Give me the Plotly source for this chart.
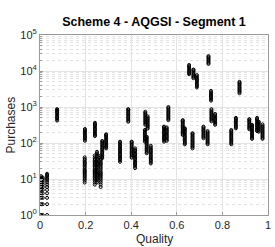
import plotly.graph_objects as go

# Each cluster: one quality value and the purchase counts observed at that quality
cluster_quality = [
    0.005, 0.012, 0.031, 0.075, 0.197, 0.196, 0.241, 0.240, 0.250, 0.266,
    0.273, 0.290, 0.351, 0.387, 0.402, 0.417, 0.460, 0.462, 0.472, 0.468,
    0.486, 0.544, 0.556, 0.563, 0.626, 0.635, 0.654, 0.669, 0.673, 0.688,
    0.717, 0.735, 0.739, 0.750, 0.752, 0.768, 0.839, 0.859, 0.875, 0.918,
    0.930, 0.952, 0.959, 0.976,
]

cluster_purchases = [
    [1, 2, 3, 4, 5, 6, 7, 8, 9, 10, 11, 12],
    [1, 2, 3, 4, 5, 6, 7, 8, 9, 10, 11],
    [1, 2, 3, 4, 5, 6, 7, 8, 9, 10, 11, 12, 13, 14],
    [420, 450, 490, 530, 570, 620, 670, 720, 780, 840, 870],
    [115, 125, 135, 145, 157, 170, 183, 197, 212, 228, 245],
    [8, 9, 10, 11, 12, 13, 14, 15, 16, 17, 18, 20, 22, 24, 26, 28, 30, 33, 36, 40],
    [156, 168, 180, 195, 210, 228, 247, 267, 290, 313, 338, 365],
    [7, 8, 9, 10, 11, 12, 13, 14, 15, 16, 17, 18, 20, 22, 24, 26, 28, 30, 33, 36, 40, 45],
    [8, 9, 10, 11, 12, 13, 14, 15, 16, 18, 20, 22, 24, 26, 28, 30, 33, 36, 40, 44, 48, 52, 57],
    [6, 7, 8, 9, 10, 11, 12, 13, 14, 15, 16, 18, 20, 22, 24, 26, 28, 30, 33, 36, 40, 45],
    [38, 41, 45, 49, 53, 57, 62, 67, 73, 79, 86, 93, 101, 110, 114],
    [71, 77, 83, 90, 97, 105, 114, 123, 133, 144, 156, 168, 174],
    [30, 33, 36, 39, 42, 46, 50, 54, 59, 64, 69, 75, 82, 89, 97, 105, 109],
    [390, 420, 455, 490, 530, 575, 620, 670, 725, 785, 850, 870],
    [39, 42, 46, 50, 54, 59, 64, 69, 75, 82, 89, 97, 105, 109],
    [20, 22, 24, 26, 28, 30, 33, 36, 39, 42, 46, 50, 54, 59, 64, 71],
    [109, 118, 128, 138, 150, 162, 175, 190, 205, 220, 230],
    [320, 345, 372, 400, 432, 467, 505, 545, 590, 637, 688, 740],
    [250, 270, 292, 315, 340, 367, 397, 430, 465, 500, 550],
    [52, 56, 61, 66, 71, 77, 83, 90, 97, 105, 114, 123, 133, 143, 150],
    [27, 29, 32, 34, 37, 40, 43, 47, 51, 55, 60, 65, 70, 76, 84],
    [109, 118, 128, 138, 149, 161, 174, 188, 203, 220, 238, 257, 278, 285],
    [115, 124, 134, 145, 157, 170, 184, 199, 215, 233, 252, 270],
    [430, 465, 500, 540, 585, 630, 680, 735, 795, 860, 930, 1000],
    [167, 180, 195, 210, 227, 245, 265, 287, 310, 335, 362, 391, 422, 430],
    [92, 99, 107, 116, 125, 135, 146, 158, 170, 184, 199, 215, 232, 250, 255],
    [8100, 8700, 9400, 10100, 10900, 11800, 12700, 13700, 14700],
    [71, 77, 83, 90, 97, 105, 113, 122, 132, 143, 154, 167, 180, 187],
    [6300, 6800, 7300, 7900, 8500, 9200, 9900, 10700, 11000],
    [3500, 3800, 4100, 4400, 4800, 5200, 5600, 6000, 6500, 7000, 7700],
    [135, 145, 157, 170, 183, 198, 214, 231, 249, 269, 285],
    [92, 99, 107, 116, 125, 135, 146, 158, 170, 184, 199, 215],
    [15700, 16900, 18200, 19600, 21100, 22700, 24400, 26000],
    [1500, 1620, 1750, 1890, 2040, 2200, 2380, 2570, 2800],
    [400, 430, 465, 500, 540, 585, 630, 680, 735, 795, 870],
    [320, 345, 372, 400, 432, 467, 505, 545, 590, 640],
    [92, 99, 107, 116, 125, 135, 146, 158, 170, 184, 199, 215, 230],
    [255, 275, 297, 320, 345, 372, 402, 434, 468, 500],
    [2400, 2600, 2800, 3000, 3250, 3500, 3780, 4080, 4400, 4750, 5000],
    [240, 259, 280, 302, 326, 352, 380, 410, 443, 460],
    [130, 140, 151, 163, 176, 190, 205, 221, 239, 258, 278, 300, 320],
    [215, 232, 250, 270, 292, 315, 340, 367, 396, 428, 462, 500],
    [205, 221, 239, 258, 278, 300, 324, 350, 378, 390],
    [130, 140, 151, 163, 176, 190, 205, 221, 239, 258, 278, 300, 330],
]

x_tick_vals = [0, 0.2, 0.4, 0.6, 0.8, 1]
x_tick_text = ["0", "0.2", "0.4", "0.6", "0.8", "1"]
y_tick_vals = [1, 10, 100, 1000, 10000, 100000]
y_tick_text = ["10<sup>0</sup>", "10<sup>1</sup>", "10<sup>2</sup>",
               "10<sup>3</sup>", "10<sup>4</sup>", "10<sup>5</sup>"]

xs, ys = [], []
for q, vals in zip(cluster_quality, cluster_purchases):
    for v in vals:
        xs.append(q)
        ys.append(v)

FONT = "Liberation Sans, Arial, sans-serif"
W, H = 275, 247
ML, MR, MT, MB = 40, 7, 35, 32

fig = go.Figure()
fig.add_trace(go.Scatter(
    x=xs, y=ys, mode="markers", showlegend=False,
    marker=dict(symbol="circle-open", size=3, color="black",
                line=dict(width=1, color="black")),
))

fig.update_layout(
    width=W, height=H,
    margin=dict(l=ML, r=MR, t=MT, b=MB, autoexpand=False),
    paper_bgcolor="white", plot_bgcolor="white",
    font=dict(family=FONT, color="#262626", size=11),
    title=dict(text="<b>Scheme 4 - AQGSI - Segment 1</b>",
               x=0.5, xref="paper", xanchor="center",
               y=1 - 22 / H, yref="container", yanchor="middle",
               font=dict(size=12.5, color="black", family=FONT)),
    annotations=[
        dict(text="Quality", xref="paper", yref="paper", x=0.5,
             y=-(239 - (H - MB)) / (H - MT - MB), xanchor="center", yanchor="middle",
             showarrow=False, font=dict(size=12, color="#262626", family=FONT)),
        dict(text="Purchases", xref="paper", yref="paper",
             x=-(ML - 10.5) / (W - ML - MR), y=0.5, xanchor="center", yanchor="middle",
             textangle=-90, showarrow=False,
             font=dict(size=12, color="#262626", family=FONT)),
    ],
)

fig.update_xaxes(
    range=[0, 1], tickmode="array", tickvals=x_tick_vals, ticktext=x_tick_text,
    automargin=False,
    showgrid=True, gridcolor="#e3e3e3", gridwidth=1, zeroline=False,
    showline=True, mirror=True, linecolor="#9a9a9a", linewidth=1,
    ticks="inside", ticklen=3, tickcolor="#9a9a9a",
    tickfont=dict(size=11, color="#262626"),
)

fig.update_yaxes(
    type="log", range=[0, 5], tickmode="array", tickvals=y_tick_vals, ticktext=y_tick_text,
    automargin=False,
    showgrid=True, gridcolor="#e3e3e3", gridwidth=1, zeroline=False,
    showline=True, mirror=True, linecolor="#9a9a9a", linewidth=1,
    ticks="inside", ticklen=3, tickcolor="#9a9a9a",
    tickfont=dict(size=11, color="#262626"),
    minor=dict(dtick="D1", showgrid=True, griddash="dot", gridcolor="#e3e3e3",
               ticks="inside", ticklen=2, tickcolor="#9a9a9a"),
)

fig.write_html("out.html", config={"displayModeBar": False},
               post_script="document.body.style.margin='0';")
